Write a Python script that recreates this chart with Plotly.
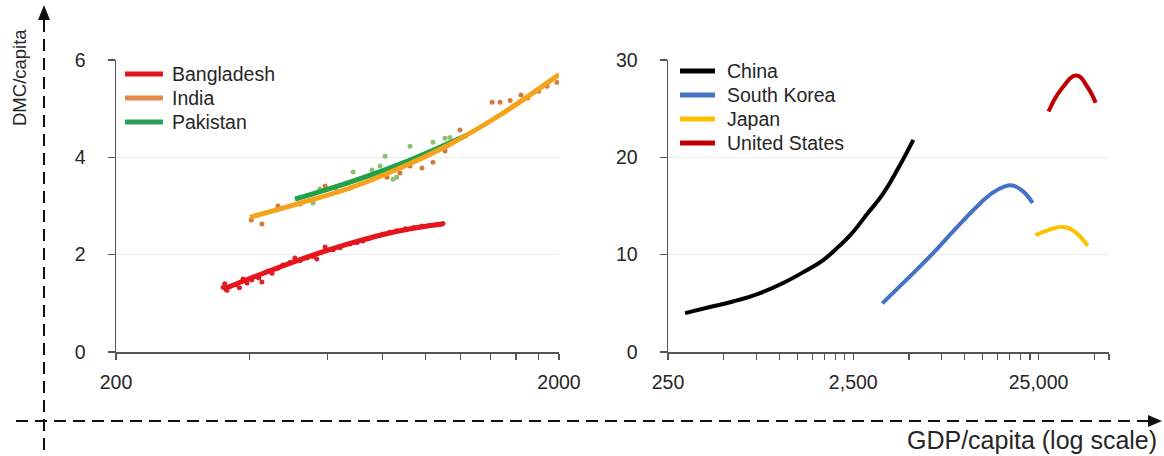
import math
import plotly.graph_objects as go

# ---------------- data ----------------
# Left panel: GDP/capita (x, log) vs DMC/capita (y)
bangladesh_line_gdp = [349, 401, 521, 675, 875, 1094]
bangladesh_line_dmc = [1.29, 1.51, 1.90, 2.23, 2.49, 2.63]
bangladesh_pts_gdp = [349, 352, 356, 362, 373, 380, 387, 395, 405, 412, 420, 427, 440, 450, 464, 476,
                      494, 507, 521, 540, 557, 568, 593, 618, 641, 675, 700, 722, 745, 770, 800, 830,
                      860, 900, 940, 980, 1020, 1060, 1094]
bangladesh_pts_dmc = [1.33, 1.40, 1.27, 1.35, 1.38, 1.32, 1.50, 1.42, 1.48, 1.55, 1.52, 1.44, 1.66, 1.62,
                      1.72, 1.79, 1.84, 1.93, 1.88, 1.93, 1.96, 1.91, 2.16, 2.10, 2.14, 2.22, 2.25, 2.28,
                      2.33, 2.38, 2.42, 2.46, 2.49, 2.53, 2.56, 2.59, 2.60, 2.62, 2.64]

india_line_gdp = [401, 521, 675, 875, 1135, 1472, 1979, 2000]
india_line_dmc = [2.77, 3.06, 3.37, 3.78, 4.27, 4.87, 5.67, 5.70]
india_pts_gdp = [404, 427, 464, 521, 593, 675, 818, 875, 922, 981, 1039, 1106, 1195, 1413, 1472, 1551,
                 1642, 1700, 1800, 1879, 1979]
india_pts_dmc = [2.71, 2.63, 3.00, 3.04, 3.41, 3.37, 3.59, 3.68, 3.82, 3.78, 3.90, 4.13, 4.56, 5.13,
                 5.13, 5.17, 5.28, 5.22, 5.36, 5.46, 5.54]

pakistan_line_gdp = [507, 675, 875, 1240]
pakistan_line_dmc = [3.14, 3.49, 3.86, 4.46]
pakistan_pts_gdp = [521, 557, 577, 630, 686, 757, 789, 810, 844, 860, 922, 1039, 1106, 1135]
pakistan_pts_dmc = [3.18, 3.06, 3.35, 3.31, 3.70, 3.74, 3.82, 4.02, 3.55, 3.59, 4.23, 4.31, 4.39, 4.41]

# Right panel
china_gdp = [309, 421, 561, 785, 1046, 1377, 1721, 2074, 2408, 2976, 3630, 4375, 5273]
china_dmc = [4.0, 4.62, 5.19, 6.06, 7.09, 8.32, 9.45, 10.8, 12.0, 14.2, 16.3, 18.9, 21.8]
korea_gdp = [3588, 4775, 6521, 8896, 11410, 14090, 16170, 18070, 20490, 23220]
korea_dmc = [5.0, 7.30, 9.87, 12.64, 14.8, 16.34, 16.96, 17.11, 16.55, 15.31]
japan_gdp = [24080, 27960, 33710, 39630, 46000]
japan_dmc = [12.0, 12.5, 12.85, 12.3, 10.9]
us_gdp = [28310, 32860, 40120, 46000, 50840]
us_dmc = [24.7, 26.9, 28.4, 27.2, 25.6]

left_legend_names = ["Bangladesh", "India", "Pakistan"]
left_legend_colors = ["#E3151B", "#E8894A", "#2AA05E"]
right_legend_names = ["China", "South Korea", "Japan", "United States"]
right_legend_colors = ["#000000", "#4472C4", "#FFC000", "#C00000"]

left_xtickvals = [200, 400, 600, 800, 1000, 1200, 1400, 1600, 1800, 2000]
left_xticktext = ["200", "", "", "", "", "", "", "", "", "2000"]
right_xtickvals = [250, 500, 750, 1000, 1250, 1500, 1750, 2000, 2250, 2500,
                   5000, 7500, 10000, 12500, 15000, 17500, 20000, 22500, 25000, 50000, 60000]
right_xticktext = ["250"] + [""] * 8 + ["2,500"] + [""] * 8 + ["25,000", "", ""]
left_ytickvals = [0, 2, 4, 6]
right_ytickvals = [0, 10, 20, 30]

# ---------------- figure ----------------
W, H = 1164, 456
FONT = "Arial, Liberation Sans, sans-serif"
TXT = "#262626"
AX = "#555555"


def px(x):
    return x / W


def py(y):
    return 1 - y / H


fig = go.Figure()

# Left panel traces
fig.add_trace(go.Scatter(x=bangladesh_pts_gdp, y=bangladesh_pts_dmc, mode="markers",
                         marker=dict(color="#D4252C", size=5), xaxis="x", yaxis="y", showlegend=False))
fig.add_trace(go.Scatter(x=india_pts_gdp, y=india_pts_dmc, mode="markers",
                         marker=dict(color="#D27A3F", size=5), xaxis="x", yaxis="y", showlegend=False))
fig.add_trace(go.Scatter(x=pakistan_pts_gdp, y=pakistan_pts_dmc, mode="markers",
                         marker=dict(color="#8CC26C", size=5), xaxis="x", yaxis="y", showlegend=False))
fig.add_trace(go.Scatter(x=bangladesh_line_gdp, y=bangladesh_line_dmc, mode="lines",
                         line=dict(color="#E8141C", width=5, shape="spline", smoothing=1.2),
                         xaxis="x", yaxis="y", name="Bangladesh", showlegend=False))
fig.add_trace(go.Scatter(x=pakistan_line_gdp, y=pakistan_line_dmc, mode="lines",
                         line=dict(color="#22A04A", width=5, shape="spline", smoothing=1.2),
                         xaxis="x", yaxis="y", name="Pakistan", showlegend=False))
fig.add_trace(go.Scatter(x=india_line_gdp, y=india_line_dmc, mode="lines",
                         line=dict(color="#F5A21C", width=5, shape="spline", smoothing=1.2),
                         xaxis="x", yaxis="y", name="India", showlegend=False))

# Right panel traces
for gx, gy, col, nm in [(china_gdp, china_dmc, "#000000", "China"),
                        (korea_gdp, korea_dmc, "#4472C4", "South Korea"),
                        (japan_gdp, japan_dmc, "#FFC000", "Japan"),
                        (us_gdp, us_dmc, "#C00000", "United States")]:
    fig.add_trace(go.Scatter(x=gx, y=gy, mode="lines",
                             line=dict(color=col, width=4, shape="spline", smoothing=1.3),
                             xaxis="x2", yaxis="y2", name=nm, showlegend=False))

common_x = dict(type="log", showline=True, linecolor=AX, linewidth=1.5, ticks="outside", ticklen=6,
                tickcolor=AX, tickwidth=1.2, showgrid=False, zeroline=False, automargin=False,
                tickfont=dict(family=FONT, size=19.5, color=TXT), ticklabelstandoff=6)
common_y = dict(showline=True, linecolor=AX, linewidth=1.5, ticks="outside", ticklen=7,
                tickcolor=AX, tickwidth=1.2, showgrid=True, gridcolor="#EDEDED", gridwidth=1,
                zeroline=False, automargin=False,
                tickfont=dict(family=FONT, size=19.5, color=TXT), ticklabelstandoff=18)

ydom = [py(352), py(60)]
fig.update_layout(
    width=W, height=H, autosize=False,
    margin=dict(l=0, r=0, t=0, b=0, pad=0, autoexpand=False),
    paper_bgcolor="white", plot_bgcolor="white", showlegend=False,
    xaxis=dict(common_x, domain=[px(116), px(559)], range=[math.log10(200), math.log10(2000)],
               tickvals=left_xtickvals, ticktext=left_xticktext, anchor="y"),
    yaxis=dict(common_y, domain=ydom, range=[0, 6], tickvals=left_ytickvals, anchor="x"),
    xaxis2=dict(common_x, domain=[px(668), px(1109)], range=[math.log10(250), math.log10(60000)],
                tickvals=right_xtickvals, ticktext=right_xticktext, anchor="y2"),
    yaxis2=dict(common_y, domain=ydom, range=[0, 30], tickvals=right_ytickvals, anchor="x2"),
)

shapes = []
annotations = []

# Manual legends
for i, (nm, col) in enumerate(zip(left_legend_names, left_legend_colors)):
    yy = 74 + 24 * i
    shapes.append(dict(type="line", xref="paper", yref="paper", x0=px(125), x1=px(163),
                       y0=py(yy), y1=py(yy), line=dict(color=col, width=5)))
    annotations.append(dict(text=nm, xref="paper", yref="paper", x=px(170), y=py(yy),
                            xanchor="left", yanchor="middle", showarrow=False,
                            font=dict(family=FONT, size=19.5, color=TXT)))
for i, (nm, col) in enumerate(zip(right_legend_names, right_legend_colors)):
    yy = 71 + 24 * i
    shapes.append(dict(type="line", xref="paper", yref="paper", x0=px(680), x1=px(715),
                       y0=py(yy), y1=py(yy), line=dict(color=col, width=5)))
    annotations.append(dict(text=nm, xref="paper", yref="paper", x=px(725), y=py(yy),
                            xanchor="left", yanchor="middle", showarrow=False,
                            font=dict(family=FONT, size=19.5, color=TXT)))

# Dashed arrows
shapes.append(dict(type="line", xref="paper", yref="paper", x0=px(44), x1=px(44), y0=py(450), y1=py(19),
                   line=dict(color="#111111", width=2, dash="12px,7px")))
shapes.append(dict(type="path", xref="paper", yref="paper",
                   path=f"M {px(38)},{py(20)} L {px(50)},{py(20)} L {px(44)},{py(5)} Z",
                   fillcolor="#111111", line=dict(width=0)))
shapes.append(dict(type="line", xref="paper", yref="paper", x0=px(16), x1=px(1149), y0=py(421), y1=py(421),
                   line=dict(color="#111111", width=2, dash="12px,7px")))
shapes.append(dict(type="path", xref="paper", yref="paper",
                   path=f"M {px(1148)},{py(415)} L {px(1148)},{py(427)} L {px(1162)},{py(421)} Z",
                   fillcolor="#111111", line=dict(width=0)))

annotations.append(dict(text="DMC/capita", xref="paper", yref="paper", x=px(20), y=py(78),
                        xanchor="center", yanchor="middle", textangle=-90, showarrow=False,
                        font=dict(family=FONT, size=18.5, color=TXT)))
annotations.append(dict(text="GDP/capita (log scale)", xref="paper", yref="paper", x=px(1159), y=py(440),
                        xanchor="right", yanchor="middle", showarrow=False,
                        font=dict(family=FONT, size=25, color=TXT)))

fig.update_layout(shapes=shapes, annotations=annotations)

fig.write_html(
    "out.html",
    config={"displayModeBar": False, "staticPlot": True},
    post_script="document.body.style.margin='0';document.body.style.padding='0';"
                "document.body.style.overflow='hidden';",
)
